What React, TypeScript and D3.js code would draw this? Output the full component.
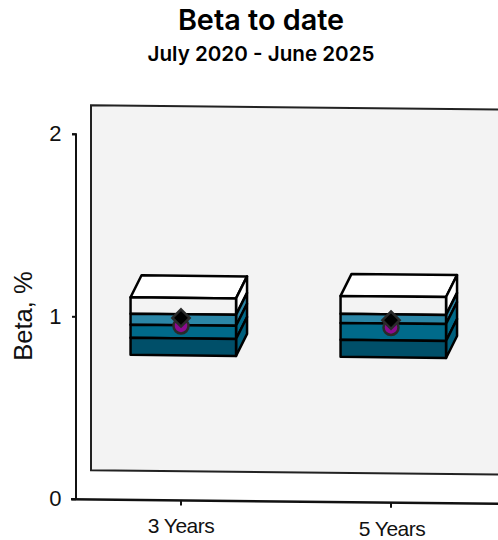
import React from "react";
import * as d3 from "d3";

const categories = ["3 Years", "5 Years"];
const yTicks = [0, 1, 2];
const q95 = [1.11, 1.13];
const q75 = [1.02, 1.032];
const q50 = [0.96, 0.982];
const q25 = [0.888, 0.889];
const q5 = [0.795, 0.796];
const circleValues = [0.956, 0.96];
const diamondValues = [1.0, 1.0];
const bandColors = ["#f3f3f3", "#2b86a6", "#006a8a", "#004f69"];
const sideColors = ["#ffffff", "#2b86a6", "#006a8a", "#005f7c"];

const W = 498;
const H = 540;
const x0 = 76;
const slope = 0.0106;
const wallDx = 15;
const wallDy = -29;
const boxDx = 11;
const boxDy = -22;
const boxShift = 2.3;

const xScale = d3.scaleBand<string>().domain(categories).range([x0, x0 + 420]);
const yScale = d3.scaleLinear().domain([0, 2]).range([499.3, 134.3]);
const px = (x: number, v: number) => yScale(v) + (x - x0) * slope;
const line = d3.line();

export default function App() {
  const boxW = 105.5;
  const boxStroke = 2.5;
  return (
    <svg width={W} height={H} style={{ position: "absolute", left: 0, top: 0 }}>
      <text x={261} y={30} textAnchor="middle" fontFamily="Inter" fontWeight={600} fontSize={28.8} fill="#000">Beta to date</text>
      <text x={261} y={61} textAnchor="middle" fontFamily="Inter" fontWeight={600} fontSize={20.6} fill="#000">July 2020 - June 2025</text>

      <path
        d={line([
          [x0 + wallDx, px(x0, 2) + wallDy],
          [W + 2, px(W + 2 - wallDx, 2) + wallDy],
          [W + 2, px(W + 2 - wallDx, 0) + wallDy],
          [x0 + wallDx, px(x0, 0) + wallDy],
        ])! + "Z"}
        fill="#f3f3f3"
        stroke="#222"
        strokeWidth={2}
      />

      <path d={line([[x0 - 4, yScale(2)], [x0, yScale(2)], [x0, yScale(0)]])!} fill="none" stroke="#111" strokeWidth={2} />
      <path d={line([[x0 - 5, yScale(0)], [W + 2, px(W + 2, 0)]])!} fill="none" stroke="#111" strokeWidth={2.4} />
      {yTicks.map((t) => (
        <g key={t}>
          <path d={line([[x0 - 4, yScale(t)], [x0, yScale(t)]])!} stroke="#111" strokeWidth={2} />
          <text x={61.5} y={yScale(t) + 7} textAnchor="end" fontFamily="Liberation Sans" fontSize={22} fill="#111">{t}</text>
        </g>
      ))}
      <text transform="translate(32,316) rotate(-90)" textAnchor="middle" fontFamily="Liberation Sans" fontSize={25.5} fill="#111">Beta, %</text>

      {categories.map((c, i) => {
        const cx = xScale(c)! + xScale.bandwidth() / 2;
        const bx = cx + boxShift;
        const lx = bx - boxW / 2;
        const rx = bx + boxW / 2;
        const edges = [q95[i], q75[i], q50[i], q25[i], q5[i]];
        const pt = (x: number, v: number): [number, number] => [x, px(x, v)];
        const back = ([x, y]: [number, number]): [number, number] => [x + boxDx, y + boxDy];
        const tickY = px(cx, 0);
        return (
          <g key={c}>
            <path d={line([[cx, tickY], [cx, tickY + 5]])!} stroke="#111" strokeWidth={2} />
            <text x={cx + i} y={tickY + 33} textAnchor="middle" fontFamily="Liberation Sans" fontSize={21} letterSpacing={-0.5} fill="#111">{c}</text>
            <path
              d={line([pt(lx, edges[0]), pt(rx, edges[0]), back(pt(rx, edges[0])), back(pt(lx, edges[0]))])! + "Z"}
              fill="#fff"
              stroke="#000"
              strokeWidth={boxStroke}
              strokeLinejoin="round"
            />
            {bandColors.map((color, b) => (
              <g key={b}>
                <path
                  d={line([pt(rx, edges[b]), back(pt(rx, edges[b])), back(pt(rx, edges[b + 1])), pt(rx, edges[b + 1])])! + "Z"}
                  fill={sideColors[b]}
                  stroke="#000"
                  strokeWidth={boxStroke}
                  strokeLinejoin="round"
                />
                <path
                  d={line([pt(lx, edges[b]), pt(rx, edges[b]), pt(rx, edges[b + 1]), pt(lx, edges[b + 1])])! + "Z"}
                  fill={color}
                  stroke="#000"
                  strokeWidth={boxStroke}
                  strokeLinejoin="round"
                />
              </g>
            ))}
            <circle cx={cx} cy={px(cx, circleValues[i])} r={7.5} fill="#8b0a8f" stroke="#2a2a2a" strokeWidth={2.5} />
            <path
              d={d3.symbol(d3.symbolDiamond2, 190)()!}
              transform={`translate(${cx},${px(cx, diamondValues[i])})`}
              fill="#000"
              stroke="#2a2a2a"
              strokeWidth={2.5}
            />
          </g>
        );
      })}
    </svg>
  );
}
